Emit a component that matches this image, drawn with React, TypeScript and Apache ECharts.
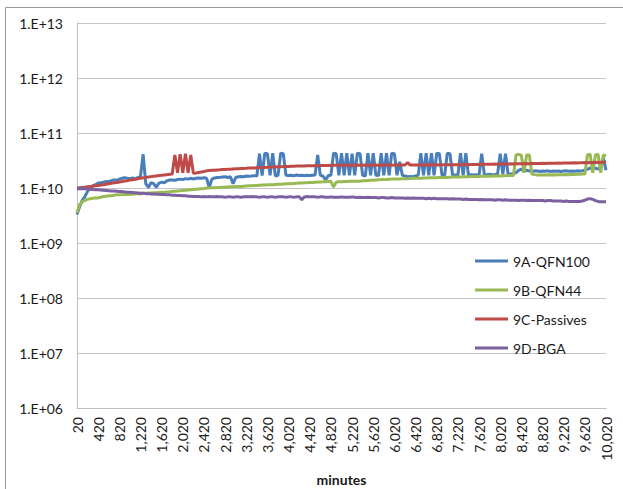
import React, { useEffect, useRef } from "react";
import * as echarts from "echarts";

// x axis: minutes, one point every 50 minutes from 20 to 10,020
const START_MIN = 20;
const STEP_MIN = 50;
const POINT_COUNT = 201;
const minutes: number[] = Array.from({ length: POINT_COUNT }, (_, i) => START_MIN + i * STEP_MIN);

// values in units of 1e9
const UNIT = 1e9;

const qfn100: number[] = [
  3.3, 4.6, 6.0, 7.0, 8.7, 10, 11, 11.5, 12.3, 12.5,
  12.8, 13.2, 13, 13.6, 14, 13.8, 14.5, 15, 15.4, 15,
  14.8, 15.2, 14.5, 15.5, 16, 41, 12, 10.2, 12.5, 12,
  10.3, 12.3, 12.8, 12.5, 13.5, 14, 14, 13.8, 14.3, 14.5,
  14.2, 14.8, 14.5, 15, 14.6, 15, 15.2, 15, 15.4, 15,
  10.2, 14.5, 15.2, 15.5, 15.6, 15.8, 16, 15.5, 16, 12,
  15.5, 16, 16.2, 16, 16.5, 16.3, 16.5, 16.8, 16.5, 42,
  16.8, 43, 42, 17, 43, 16.5, 17, 43, 42, 17,
  16.8, 17, 16.6, 17.2, 16.9, 17, 16.7, 17.1, 16.8, 17,
  17.2, 40, 17, 16.5, 14, 16.8, 17, 43, 42, 17,
  43, 17, 43, 17, 42, 17, 43, 42, 17, 16.5,
  43, 17, 43, 17, 16.8, 43, 17, 43, 17, 43,
  42, 17, 30, 17, 16.5, 16, 16.2, 16, 16.5, 17,
  43, 17, 43, 17, 43, 17, 43, 42, 17, 17,
  43, 42, 17, 17.2, 17, 43, 17, 43, 17, 17.5,
  17.2, 17.5, 17, 42, 17.5, 17.5, 17.8, 17.5, 17.6, 17.8,
  42, 17.8, 42, 17.8, 18, 18.2, 19, 21, 22, 20,
  21, 20.5, 20, 20.5, 20.3, 20, 20.4, 20.2, 20.5, 20,
  20.3, 20.1, 20.4, 20, 20.3, 20.5, 20.2, 20.4, 20.1, 20.5,
  20.3, 20.6, 21, 22, 23, 22, 23, 22, 24, 35,
  21,
];

const qfn44: number[] = [
  3.5, 5.0, 5.6, 6.0, 6.2, 6.4, 6.5, 6.6, 6.6, 6.8,
  7.0, 7.1, 7.2, 7.2, 7.4, 7.5, 7.5, 7.6, 7.6, 7.7,
  7.6, 7.8, 7.8, 7.9, 7.8, 8.0, 8.0, 8.1, 8.1, 8.2,
  8.2, 8.3, 8.4, 8.4, 8.5, 8.5, 8.7, 8.7, 8.8, 8.9,
  9.0, 9.1, 9.2, 9.3, 9.4, 9.5, 9.6, 9.7, 9.8, 10.0,
  10.0, 10.1, 10.1, 10.2, 10.2, 10.3, 10.3, 10.4, 10.5, 10.5,
  10.6, 10.7, 10.7, 10.8, 10.9, 11.0, 11.0, 11.1, 11.1, 11.2,
  11.3, 11.3, 11.4, 11.5, 11.5, 11.6, 11.7, 11.7, 11.8, 11.9,
  12.0, 12.0, 12.1, 12.2, 12.3, 12.3, 12.4, 12.5, 12.6, 12.6,
  12.7, 12.8, 12.9, 13.0, 13.0, 13.1, 13.2, 10.4, 12.8, 13.0,
  13.0, 13.1, 13.1, 13.2, 13.2, 13.2, 13.3, 13.3, 13.5, 13.6,
  13.7, 13.8, 13.9, 14.0, 14.1, 14.2, 14.2, 14.3, 14.4, 14.5,
  14.5, 14.6, 14.6, 14.7, 14.8, 14.8, 14.9, 15.0, 15.0, 15.1,
  15.1, 15.2, 15.2, 15.3, 15.3, 15.4, 15.4, 15.5, 15.5, 15.6,
  15.6, 15.7, 15.8, 15.8, 15.9, 15.9, 16.0, 16.0, 16.0, 16.1,
  16.1, 16.2, 16.2, 16.3, 16.3, 16.4, 16.4, 16.5, 16.5, 16.6,
  16.6, 16.7, 16.7, 16.8, 16.8, 16.9, 40, 41, 39, 19,
  40, 40, 18, 17.5, 17.3, 17.2, 17.3, 17.2, 17.4, 17.3,
  17.4, 17.3, 17.5, 17.4, 17.5, 17.6, 17.5, 17.7, 17.6, 17.8,
  17.8, 17.9, 18, 40, 41, 19, 40, 41, 19, 40,
  38,
];

const passives: number[] = [
  10, 10.1, 10.2, 10.3, 10.5, 10.6, 10.8, 11, 11.1, 11.3,
  11.5, 11.7, 12, 12.2, 12.4, 12.6, 12.9, 13.1, 13.4, 13.6,
  13.9, 14.1, 14.4, 14.7, 15.1, 15.3, 15.6, 15.8, 16.1, 16.3,
  16.6, 16.8, 17.0, 17.3, 17.5, 17.7, 18.0, 40, 19, 41,
  19, 42, 19, 40, 18.6, 18.8, 19.2, 19.6, 20, 20.5,
  20.8, 21, 21.1, 21.3, 21.4, 21.6, 21.7, 21.9, 22.0, 22.2,
  22.3, 22.4, 22.6, 22.7, 22.8, 23.0, 23.1, 23.2, 23.4, 23.5,
  23.6, 23.7, 23.8, 24.0, 24.1, 24.2, 24.3, 24.4, 24.5, 24.6,
  24.7, 24.8, 24.9, 25.0, 25.1, 25.1, 25.2, 25.3, 25.4, 25.4,
  25.5, 25.5, 25.6, 25.6, 25.7, 25.7, 25.8, 25.8, 25.8, 25.9,
  25.9, 25.9, 26.0, 25.8, 26.0, 25.9, 26.1, 25.9, 26.0, 26.1,
  25.9, 26.1, 26.0, 26.2, 26.0, 26.1, 26.0, 26.2, 26.1, 26.0,
  26.2, 26.1, 26.3, 26.1, 26.2, 29, 26.1, 26.3, 26.2, 26.3,
  26.2, 26.4, 26.3, 26.2, 26.4, 26.3, 26.5, 26.3, 26.4, 26.5,
  26.4, 26.5, 26.4, 26.6, 26.5, 26.6, 26.5, 26.7, 26.6, 26.7,
  26.8, 26.7, 26.9, 26.8, 27.0, 26.9, 27.1, 27.0, 27.2, 27.1,
  27.3, 27.2, 27.4, 27.3, 27.5, 27.4, 27.6, 27.5, 27.7, 27.6,
  27.8, 27.7, 27.9, 27.8, 28.0, 27.9, 28.1, 28.0, 28.2, 28.1,
  28.3, 28.2, 28.4, 28.3, 28.5, 28.4, 28.6, 28.5, 28.7, 28.6,
  28.8, 28.9, 29.0, 28.9, 29.1, 29.0, 29.3, 29.2, 29.4, 29.5,
  29.7,
];

const bga: number[] = [
  9.6, 9.7, 9.8, 9.7, 9.6, 9.5, 9.4, 9.3, 9.3, 9.2,
  9.1, 9.0, 8.9, 8.8, 8.8, 8.7, 8.6, 8.6, 8.5, 8.4,
  8.4, 8.3, 8.2, 8.1, 8.0, 8.0, 7.9, 7.9, 7.8, 7.8,
  7.7, 7.7, 7.6, 7.6, 7.5, 7.5, 7.4, 7.4, 7.3, 7.3,
  7.2, 7.2, 7.1, 7.1, 7.0, 7.0, 7.0, 6.9, 7.0, 6.9,
  7.0, 6.9, 6.9, 7.0, 6.9, 6.9, 6.8, 6.9, 6.9, 6.8,
  6.9, 6.9, 6.8, 6.9, 6.9, 6.9, 7.0, 6.9, 6.9, 6.8,
  6.9, 6.9, 6.8, 6.9, 6.9, 6.8, 6.9, 6.9, 6.9, 6.8,
  6.9, 6.9, 6.8, 6.9, 6.9, 6.1, 6.9, 7.0, 6.9, 6.9,
  6.9, 6.8, 6.9, 6.9, 6.8, 6.8, 6.9, 6.8, 6.8, 6.8,
  6.9, 6.8, 6.8, 6.8, 6.9, 6.8, 6.7, 6.8, 6.7, 6.7,
  6.8, 6.7, 6.7, 6.7, 6.6, 6.7, 6.7, 6.6, 6.6, 6.7,
  6.6, 6.6, 6.6, 6.6, 6.5, 6.6, 6.5, 6.6, 6.5, 6.5,
  6.5, 6.5, 6.4, 6.5, 6.4, 6.5, 6.4, 6.4, 6.4, 6.4,
  6.4, 6.3, 6.4, 6.3, 6.3, 6.3, 6.2, 6.3, 6.2, 6.2,
  6.2, 6.2, 6.1, 6.2, 6.1, 6.1, 6.1, 6.1, 6.0, 6.1,
  6.1, 6.0, 6.1, 6.0, 6.0, 6.0, 6.0, 5.9, 6.0, 6.0,
  5.9, 6.0, 5.9, 5.9, 5.9, 5.9, 5.9, 5.8, 5.9, 5.9,
  5.8, 5.8, 5.8, 5.8, 5.7, 5.8, 5.7, 5.7, 5.7, 5.7,
  5.7, 5.8, 6.0, 6.3, 6.4, 6.2, 5.9, 5.7, 5.6, 5.6,
  5.6,
];

const seriesNames = ["9A-QFN100", "9B-QFN44", "9C-Passives", "9D-BGA"];
const seriesColors = ["#4a7ebb", "#98b954", "#be4b48", "#7d60a0"];
const seriesData = [qfn100, qfn44, passives, bga];

const Y_MIN = 1e6;
const Y_MAX = 1e13;
const FONT = "Lato, 'Open Sans', sans-serif";

export default function App() {
  const ref = useRef<HTMLDivElement>(null);

  useEffect(() => {
    if (!ref.current) return;
    const chart = echarts.init(ref.current, null, { renderer: "svg" });
    chart.setOption({
      animation: false,
      backgroundColor: "#ffffff",
      textStyle: { fontFamily: FONT },
      graphic: [
        {
          type: "rect",
          x: 5.5,
          y: 7.5,
          shape: { x: 0, y: 0, width: 700, height: 600 },
          style: { fill: "none", stroke: "#9a9a9a", lineWidth: 1 },
          silent: true,
        },
      ],
      grid: {
        left: 77,
        top: 23,
        width: 529,
        height: 385,
        containLabel: false,
        outerBoundsMode: "none",
      },
      legend: {
        orient: "vertical",
        left: 470,
        top: 248,
        icon: "rect",
        itemWidth: 33,
        itemHeight: 3,
        itemGap: 13,
        data: seriesNames,
        textStyle: { fontFamily: FONT, fontSize: 14, color: "#1a1a1a", lineHeight: 16 },
      },
      xAxis: {
        type: "category",
        boundaryGap: false,
        data: minutes,
        name: "minutes",
        nameLocation: "middle",
        nameGap: 64,
        nameTextStyle: { fontFamily: FONT, fontSize: 14, fontWeight: "bold", color: "#1a1a1a" },
        axisLine: { show: true, lineStyle: { color: "#bfbfbf", width: 1 } },
        axisTick: { show: false },
        splitLine: { show: false },
        axisLabel: {
          interval: 7,
          rotate: 90,
          margin: 9,
          fontFamily: FONT,
          fontSize: 14,
          color: "#1a1a1a",
          formatter: (v: string) => Number(v).toLocaleString("en-US"),
        },
      },
      yAxis: {
        type: "log",
        logBase: 10,
        min: Y_MIN,
        max: Y_MAX,
        splitNumber: 7,
        axisLine: { show: true, lineStyle: { color: "#bfbfbf", width: 1 } },
        axisTick: { show: false },
        splitLine: { show: true, lineStyle: { color: "#c4c4c4", width: 1 } },
        axisLabel: {
          margin: 14,
          fontFamily: FONT,
          fontSize: 14,
          color: "#1a1a1a",
          formatter: (v: number) => {
            const e = Math.round(Math.log10(v));
            return "1.E+" + (e < 10 ? "0" + e : String(e));
          },
        },
      },
      series: seriesNames.map((name, k) => ({
        name,
        type: "line",
        data: seriesData[k].map((v) => v * UNIT),
        symbol: "none",
        showSymbol: false,
        color: seriesColors[k],
        lineStyle: { color: seriesColors[k], width: 3 },
      })),
    });
    return () => chart.dispose();
  }, []);

  return (
    <div
      ref={ref}
      style={{ position: "absolute", left: 0, top: 0, width: 623, height: 489 }}
    />
  );
}
